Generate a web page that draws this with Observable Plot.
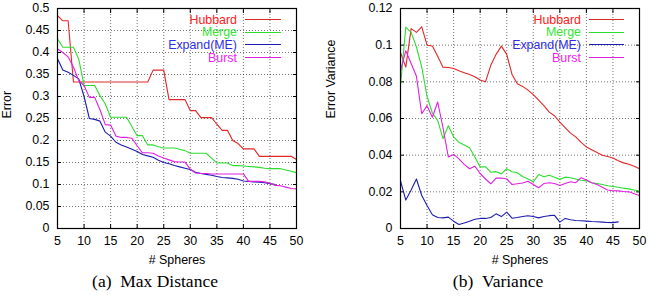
<!DOCTYPE html>
<html><head><meta charset="utf-8">
<script src="https://cdn.jsdelivr.net/npm/d3@7"></script>
<script src="https://cdn.jsdelivr.net/npm/@observablehq/plot@0.6"></script>
<style>
body{margin:0;background:#fff;}
#wrap{position:relative;width:648px;height:296px;overflow:hidden;font-family:"Liberation Sans",Arial,sans-serif;}
.panel{position:absolute;top:0;}
.cap{position:absolute;top:271px;font-family:"Liberation Serif","DejaVu Serif",serif;font-size:17.5px;text-align:center;line-height:20px;white-space:nowrap;}
.lg{position:absolute;font-size:12.4px;line-height:14px;white-space:nowrap;}
.lgline{position:absolute;height:0;}
</style>
</head><body>
<div id="wrap"></div>
<script>
// ---- data ----
const spheres = d3.range(5, 51); // 5..50
const seriesNames = ["Hubbard", "Merge", "Expand(ME)", "Burst"];
const lineColors = ["#e02828", "#2edc2e", "#1c1cb0", "#e020e0"];
const textColors = ["#ff2020", "#33e633", "#2f2fe8", "#ee22ee"];

// (a) Max Distance
const hubbardMax = [0.484,0.472,0.472,0.333,0.333,0.333,0.333,0.333,0.333,0.333,0.333,0.333,0.333,0.333,0.333,0.333,0.333,0.333,0.360,0.360,0.360,0.293,0.293,0.293,0.293,0.268,0.268,0.252,0.252,0.252,0.237,0.223,0.223,0.200,0.193,0.181,0.181,0.181,0.164,0.164,0.164,0.164,0.164,0.164,0.164,0.157];
const mergeMax = [0.431,0.412,0.412,0.412,0.385,0.325,0.325,0.325,0.302,0.283,0.253,0.253,0.253,0.253,0.232,0.211,0.211,0.190,0.190,0.186,0.183,0.183,0.183,0.180,0.177,0.171,0.171,0.171,0.171,0.160,0.149,0.149,0.149,0.143,0.143,0.142,0.141,0.140,0.139,0.137,0.136,0.136,0.136,0.133,0.130,0.127];
const expandMax = [0.386,0.360,0.355,0.348,0.340,0.300,0.250,0.248,0.244,0.219,0.210,0.196,0.190,0.185,0.180,0.175,0.168,0.165,0.162,0.155,0.150,0.147,0.143,0.140,0.137,0.134,0.128,0.125,0.123,0.121,0.118,0.116,0.115,0.114,0.112,0.108,0.107,0.106,0.105,0.104,0.102,0.100];
const burstMax = [0.408,0.400,0.390,0.367,0.336,0.325,0.298,0.298,0.270,0.236,0.235,0.210,0.207,0.207,0.205,0.188,0.172,0.172,0.171,0.165,0.160,0.156,0.152,0.151,0.151,0.135,0.126,0.125,0.125,0.124,0.124,0.124,0.124,0.124,0.124,0.124,0.107,0.107,0.107,0.106,0.103,0.098,0.097,0.094,0.091,0.090];

// (b) Variance
const hubbardVar = [0.096,0.088,0.109,0.107,0.110,0.100,0.0995,0.094,0.088,0.0878,0.0873,0.086,0.085,0.084,0.0828,0.081,0.080,0.089,0.095,0.0995,0.095,0.084,0.079,0.0775,0.0755,0.073,0.070,0.067,0.0635,0.0615,0.058,0.055,0.052,0.050,0.047,0.0445,0.043,0.0415,0.040,0.0393,0.0385,0.037,0.0358,0.035,0.034,0.0326];
const mergeVar = [0.078,0.1098,0.107,0.099,0.088,0.072,0.063,0.059,0.049,0.056,0.050,0.047,0.0455,0.044,0.039,0.0336,0.0337,0.0307,0.031,0.0298,0.0326,0.031,0.0304,0.0284,0.027,0.0255,0.0294,0.0282,0.029,0.028,0.0268,0.028,0.0277,0.027,0.0263,0.026,0.025,0.0245,0.024,0.0233,0.0229,0.0225,0.022,0.0216,0.021,0.0204];
const expandVar = [0.026,0.0155,0.021,0.027,0.018,0.0125,0.0075,0.006,0.0058,0.0062,0.004,0.0022,0.003,0.004,0.005,0.0055,0.0055,0.006,0.008,0.0065,0.0089,0.0056,0.006,0.0065,0.007,0.0065,0.0058,0.0065,0.007,0.0072,0.0035,0.0055,0.0048,0.0044,0.0042,0.004,0.0038,0.0037,0.0035,0.0033,0.0032,0.0036];
const burstVar = [0.086,0.097,0.090,0.083,0.0626,0.067,0.0607,0.069,0.055,0.039,0.0404,0.038,0.035,0.0326,0.034,0.030,0.027,0.0244,0.0275,0.0275,0.027,0.024,0.0244,0.0248,0.0258,0.024,0.0222,0.0245,0.025,0.0245,0.0235,0.0245,0.0255,0.025,0.0277,0.0265,0.025,0.024,0.0225,0.021,0.0206,0.0205,0.0202,0.020,0.019,0.018];

const xTicks = d3.range(5, 51, 5);
const yTicksMax = [0,0.05,0.1,0.15,0.2,0.25,0.3,0.35,0.4,0.45,0.5];
const yTicksVar = [0,0.02,0.04,0.06,0.08,0.1,0.12];

function toRows(vals) { return vals.map((v, i) => ({x: spheres[i], y: v})); }

function panel({series, yDomain, yTicks, yLabel, marginLeft, marginRight, yFmt}) {
  const W = 324, H = 268;
  const fs = 12.4;
  const marks = [
    Plot.gridX(xTicks, {stroke: "#000", strokeOpacity: 0.55, strokeDasharray: "1,2"}),
    Plot.gridY(yTicks, {stroke: "#000", strokeOpacity: 0.55, strokeDasharray: "1,2"}),
    // inward tick marks on all four sides
    Plot.axisX(xTicks, {anchor: "bottom", tickSize: 4, dy: -4, tickFormat: () => "", label: null}),
    Plot.axisX(xTicks, {anchor: "top", tickSize: 4, dy: 4, tickFormat: () => "", label: null}),
    Plot.axisY(yTicks, {anchor: "left", tickSize: 4, dx: 4, tickFormat: () => "", label: null}),
    Plot.axisY(yTicks, {anchor: "right", tickSize: 4, dx: -4, tickFormat: () => "", label: null}),
    // labels
    Plot.axisX(xTicks, {anchor: "bottom", tickSize: 0, tickPadding: 8, fontSize: fs, label: null}),
    Plot.axisY(yTicks, {anchor: "left", tickSize: 0, tickPadding: 8, fontSize: fs, label: null, tickFormat: yFmt}),
    Plot.text(["# Spheres"], {frameAnchor: "bottom", dy: 32, fontSize: fs, lineAnchor: "middle"}),
    Plot.text([yLabel], {frameAnchor: "left", dx: -(marginLeft - 7), rotate: -90, fontSize: fs, lineAnchor: "middle"}),
    ...series.map((s, i) => Plot.line(toRows(s), {x: "x", y: "y", stroke: lineColors[i], strokeWidth: 1.1})),
    Plot.frame({stroke: "#000", strokeWidth: 1.2})
  ];
  return Plot.plot({
    width: W, height: H,
    marginLeft, marginRight, marginTop: 8, marginBottom: H - 228,
    style: {fontFamily: "'Liberation Sans', Arial, sans-serif", fontSize: fs + "px", color: "#000", background: "transparent"},
    x: {domain: [5, 50]},
    y: {domain: yDomain},
    marks
  });
}

const wrap = document.getElementById("wrap");

const p1 = panel({series: [hubbardMax, mergeMax, expandMax, burstMax], yDomain: [0, 0.5], yTicks: yTicksMax, yLabel: "Error", marginLeft: 57, marginRight: 28, yFmt: d => String(+d.toFixed(2))});
p1.classList.add("panel"); p1.style.left = "0px";
wrap.appendChild(p1);

const p2 = panel({series: [hubbardVar, mergeVar, expandVar, burstVar], yDomain: [0, 0.12], yTicks: yTicksVar, yLabel: "Error Variance", marginLeft: 76, marginRight: 9, yFmt: d => String(+d.toFixed(2))});
p2.classList.add("panel"); p2.style.left = "324px";
wrap.appendChild(p2);

// legends
function legend(textRight, lineLeft, lineRight) {
  seriesNames.forEach((name, i) => {
    const cy = 19.5 + i * 12.7;
    const t = document.createElement("div");
    t.className = "lg";
    t.textContent = name;
    t.style.color = textColors[i];
    t.style.right = (648 - textRight) + "px";
    t.style.top = (cy - 7) + "px";
    wrap.appendChild(t);
    const l = document.createElement("div");
    l.className = "lgline";
    l.style.left = lineLeft + "px";
    l.style.width = (lineRight - lineLeft) + "px";
    l.style.top = (cy - 0.5) + "px";
    l.style.borderTop = "1.2px solid " + lineColors[i];
    wrap.appendChild(l);
  });
}
legend(237, 245, 281);
legend(581, 589, 624);

// captions
function caption(text, center) {
  const c = document.createElement("div");
  c.className = "cap";
  c.textContent = text;
  c.style.left = (center - 100) + "px";
  c.style.width = "200px";
  wrap.appendChild(c);
}
caption("(a)\u2002Max Distance", 155);
caption("(b)\u2002Variance", 498);
</script>
</body></html>
